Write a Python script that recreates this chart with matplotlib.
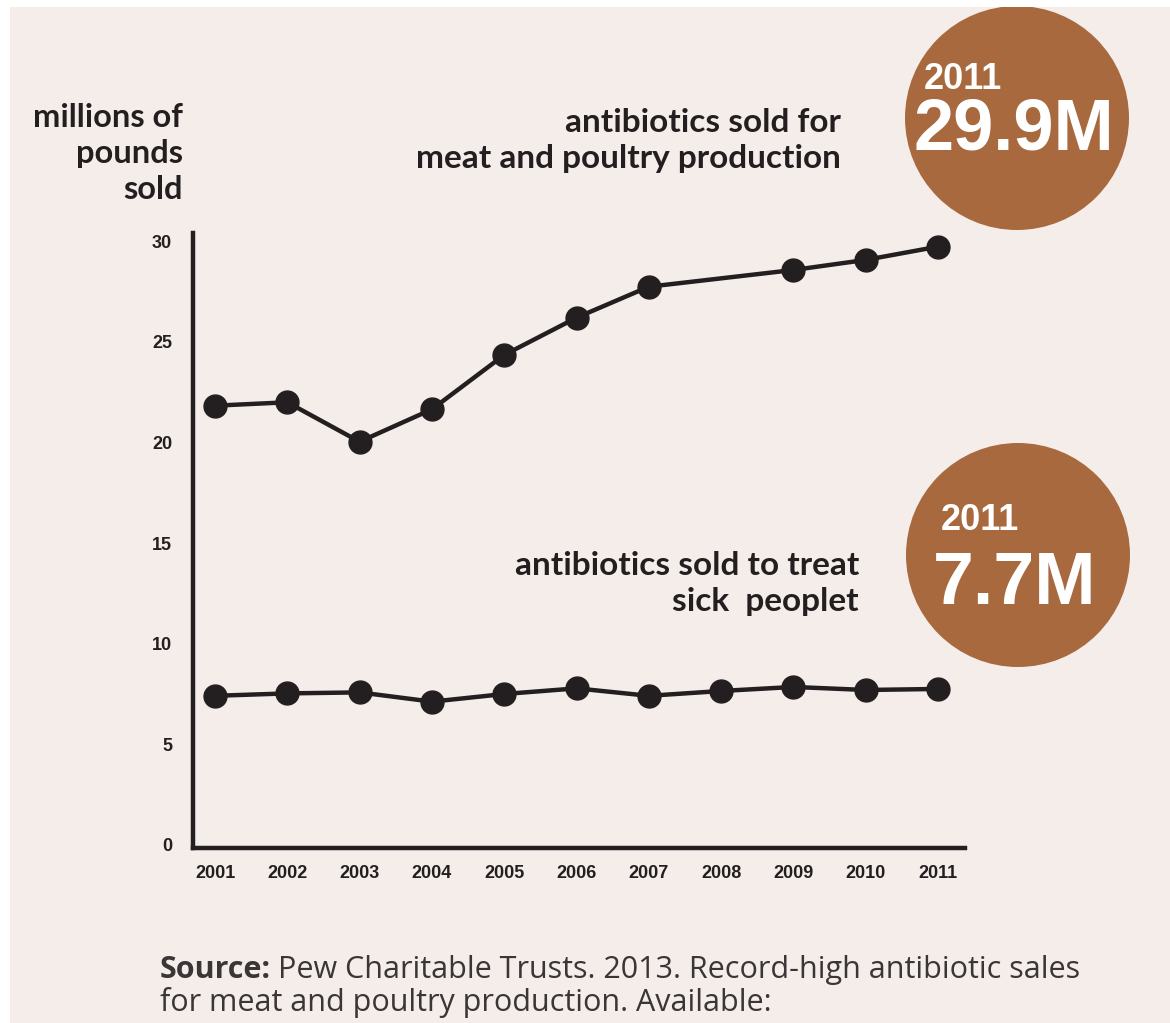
import numpy as np
import matplotlib.pyplot as plt
from matplotlib.patches import Circle, Rectangle

# --- data (millions of pounds) ---
meat_years = [2001, 2002, 2003, 2004, 2005, 2006, 2007, 2009, 2010, 2011]
meat_sales = [21.82, 21.99, 20.03, 21.64, 24.34, 26.19, 27.73, 28.56, 29.06, 29.72]

human_years = [2001, 2002, 2003, 2004, 2005, 2006, 2007, 2008, 2009, 2010, 2011]
human_sales = [7.41, 7.53, 7.58, 7.12, 7.50, 7.78, 7.41, 7.65, 7.85, 7.70, 7.75]

x_ticks = list(range(2001, 2012))
y_ticks = [0, 5, 10, 15, 20, 25, 30]

BG = "#F5EDE9"
INK = "#231F20"
BROWN = "#A8693E"
W, H = 1170, 1023

fig = plt.figure(figsize=(W / 100, H / 100), dpi=100)
fig.patch.set_facecolor("white")

# background layer in pixel coordinates
bg = fig.add_axes([0, 0, 1, 1], zorder=0)
bg.set_xlim(0, W)
bg.set_ylim(H, 0)
bg.axis("off")
panel = Rectangle((10, 7), W - 10, H - 7, facecolor=BG, edgecolor="none")
bg.add_patch(panel)

for cx, cy in [(1017, 118), (1018, 555)]:
    c = Circle((cx, cy), 112, facecolor=BROWN, edgecolor="none")
    bg.add_patch(c)
    c.set_clip_path(panel)

big = dict(color="white", fontweight="bold", family="Liberation Sans")
bg.text(924, 89, "2011", fontsize=26, **big)
bg.text(914, 149, "29.9M", fontsize=52, **big)
bg.text(941, 530, "2011", fontsize=26, **big)
bg.text(933, 604, "7.7M", fontsize=53, **big)

lab = dict(color=INK, fontweight="bold", family="Lato", ha="right", va="top")
bg.text(183, 103, "millions of\npounds\nsold", fontsize=23.5, linespacing=1.3, **lab)
bg.text(841, 108, "antibiotics sold for\nmeat and poultry production",
        fontsize=24, linespacing=1.3, **lab)
bg.text(859, 551, "antibiotics sold to treat\nsick  peoplet",
        fontsize=24, linespacing=1.3, **lab)

# source line
src = dict(color="#3a3536", family="Open Sans", fontsize=22, va="baseline")
t = bg.text(160, 978, "Source:", fontweight="bold", **src)
r = fig.canvas.get_renderer()
bb = t.get_window_extent(r)
bg.text(160 + bb.width + 7, 978, "Pew Charitable Trusts. 2013. Record-high antibiotic sales", **src)
bg.text(160, 1011, "for meat and poultry production. Available:", **src)

# --- chart axes ---
x0, x1 = 193, 965
y0, y1 = 848, 233
ax = fig.add_axes([x0 / W, 1 - y0 / H, (x1 - x0) / W, (y0 - y1) / H], zorder=1)
ax.patch.set_alpha(0)
ax.set_xlim(2001 - 22 / 72.3, 2011 + 27 / 72.3)
ax.set_ylim(-3 / 20.13, 30 + 8 / 20.13)

for s in ["top", "right"]:
    ax.spines[s].set_visible(False)
for s in ["left", "bottom"]:
    ax.spines[s].set_linewidth(3.2)
    ax.spines[s].set_color(INK)

ax.plot(meat_years, meat_sales, color=INK, lw=3.2, marker="o", ms=16.5, clip_on=False)
ax.plot(human_years, human_sales, color=INK, lw=3.2, marker="o", ms=16.5, clip_on=False)

ax.set_xticks(x_ticks)
ax.set_yticks(y_ticks)
ax.tick_params(length=0)
ax.tick_params(axis="y", pad=15)
ax.tick_params(axis="x", pad=12)
for tl in ax.get_xticklabels() + ax.get_yticklabels():
    tl.set_fontfamily("Liberation Sans")
    tl.set_fontweight("bold")
    tl.set_fontsize(13)
    tl.set_color(INK)

fig.savefig("out.png", dpi=100, facecolor=fig.get_facecolor())
